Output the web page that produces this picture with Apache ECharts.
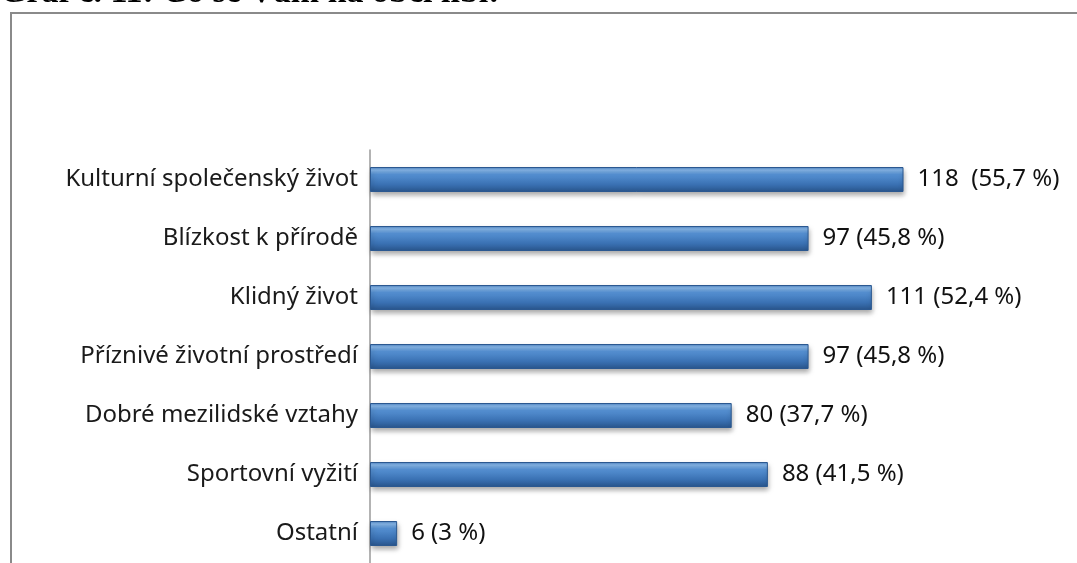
<!DOCTYPE html>
<html>
<head>
<meta charset="utf-8">
<script src="https://cdn.jsdelivr.net/npm/echarts@6/dist/echarts.min.js"></script>
<style>
  html, body { margin: 0; padding: 0; background: #fff; }
  #chart { width: 1077px; height: 563px; }
</style>
</head>
<body>
<div id="chart"></div>
<script>
// 数据
const categories = ['Ostatní', 'Sportovní vyžití', 'Dobré mezilidské vztahy', 'Příznivé životní prostředí', 'Klidný život', 'Blízkost k přírodě', 'Kulturní společenský život']
const counts = [6, 88, 80, 97, 111, 97, 118]
const percents = ['(3 %)', '(41,5 %)', '(37,7 %)', '(45,8 %)', '(52,4 %)', '(45,8 %)', ' (55,7 %)']
const titleText = 'Graf č. 11: Co se Vám na obci líbí:'

const labelFont = 'Noto Sans'

const myChart = echarts.init(document.getElementById('chart'))
const option = {
  animation: false,
  graphic: [
    {
      type: 'text',
      left: 0,
      top: -24,
      style: {
        text: titleText,
        font: 'bold 34px "Liberation Serif"',
        fill: '#000'
      }
    },
    {
      type: 'rect',
      shape: { x: 11, y: 13, width: 1075, height: 600 },
      style: { fill: 'none', stroke: '#8a8a8a', lineWidth: 2 }
    }
  ],
  grid: {
    left: 370,
    top: 150,
    width: 633,
    height: 417
  },
  xAxis: {
    type: 'value',
    min: 0,
    max: 140,
    show: false
  },
  yAxis: {
    type: 'category',
    data: categories,
    axisLine: { lineStyle: { color: '#9a9a9a', width: 1.5 } },
    axisTick: { show: false },
    axisLabel: {
      color: '#1a1a1a',
      fontFamily: labelFont,
      fontSize: 24,
      margin: 12
    }
  },
  series: [
    {
      type: 'bar',
      data: counts,
      barWidth: 25,
      itemStyle: {
        color: new echarts.graphic.LinearGradient(0, 0, 0, 1, [
          { offset: 0, color: '#4a80c2' },
          { offset: 0.12, color: '#88b8ea' },
          { offset: 0.3, color: '#5590d2' },
          { offset: 0.7, color: '#3a71b3' },
          { offset: 1, color: '#29558c' }
        ]),
        borderColor: '#2b5890',
        borderWidth: 1,
        shadowColor: 'rgba(0,0,0,0.35)',
        shadowBlur: 5,
        shadowOffsetY: 3,
        shadowOffsetX: 1
      },
      label: {
        show: true,
        position: 'right',
        distance: 14,
        color: '#111',
        fontFamily: labelFont,
        fontSize: 24,
        formatter: p => p.value + ' ' + percents[p.dataIndex]
      }
    }
  ]
}
myChart.setOption(option)
</script>
</body>
</html>
